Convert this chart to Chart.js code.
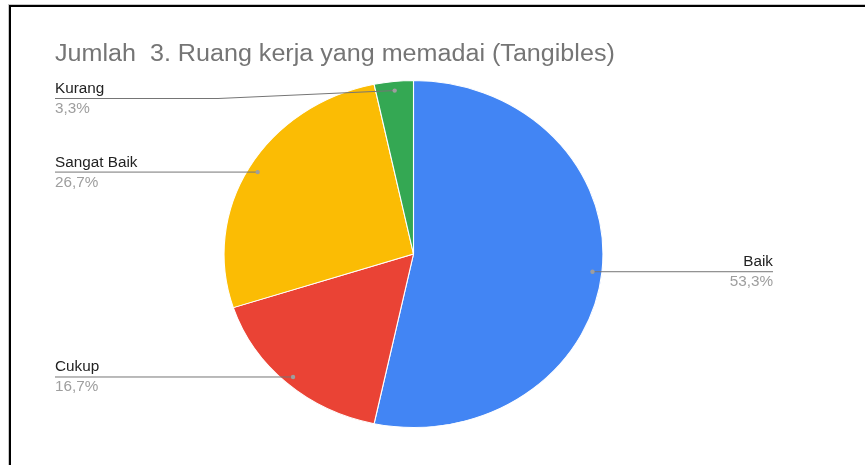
<!DOCTYPE html>
<html>
<head>
<meta charset="utf-8">
<script src="https://cdn.jsdelivr.net/npm/chart.js@4"></script>
<style>
  html, body { margin: 0; padding: 0; background: #fff; }
  #wrap { position: relative; width: 865px; height: 465px; overflow: hidden; }
  #frame {
    position: absolute; left: 9px; top: 5px; width: 900px; height: 500px;
    border-left: 2px solid #000; border-top: 2px solid #000;
    box-shadow: -1px -1px 0 #c8c8c8;
  }
  canvas { position: absolute; left: 0; top: 0; }
</style>
</head>
<body>
<div id="wrap">
  <div id="frame"></div>
  <canvas id="mychart" width="865" height="465"></canvas>
</div>
<script>
const chartTitle = 'Jumlah  3. Ruang kerja yang memadai (Tangibles)'
const categories = ['Baik', 'Cukup', 'Sangat Baik', 'Kurang']
const counts = [16, 5, 8, 1]
const colors = ['#4285F4', '#EA4335', '#FBBC04', '#34A853']

// the reference picture is a bit wider than tall (pie and text alike)
const stretchX = 1.092
const labelLeftX = 55
const labelRightX = 773
const labelMinY = 98
const fontFamily = '"Liberation Sans", Arial, sans-serif'

const total = counts.reduce((a, b) => a + b, 0)

function fmtPct(v) {
    return (v / total * 100).toFixed(1).replace('.', ',') + '%'
}

function wideText(ctx, text, x, y) {
    ctx.save()
    ctx.translate(x, y)
    ctx.scale(stretchX, 1)
    ctx.fillText(text, 0, 0)
    ctx.restore()
}

// stretch the arcs horizontally around the pie center
const stretchPlugin = {
    id: 'stretch',
    beforeDatasetsDraw(chart) {
        const arc = chart.getDatasetMeta(0).data[0]
        const ctx = chart.ctx
        ctx.save()
        ctx.translate(arc.x, arc.y)
        ctx.scale(stretchX, 1)
        ctx.translate(-arc.x, -arc.y)
    },
    afterDatasetsDraw(chart) {
        chart.ctx.restore()
    }
}

// title + leader-line labels, google sheets style
const labelPlugin = {
    id: 'leaderLabels',
    afterDraw(chart) {
        const ctx = chart.ctx
        ctx.save()
        ctx.font = '23px ' + fontFamily
        ctx.fillStyle = '#757575'
        ctx.textAlign = 'left'
        ctx.textBaseline = 'alphabetic'
        wideText(ctx, chartTitle, 55, 61)

        chart.getDatasetMeta(0).data.forEach((arc, i) => {
            const p = arc.getProps(['x', 'y', 'startAngle', 'endAngle', 'outerRadius'], true)
            const mid = (p.startAngle + p.endAngle) / 2
            const r = p.outerRadius * 0.95
            const dx = p.x + Math.cos(mid) * r * stretchX
            const dy = p.y + Math.sin(mid) * r
            const right = Math.cos(mid) > 0
            const ly = Math.max(dy, labelMinY)
            const tx = right ? labelRightX : labelLeftX

            ctx.strokeStyle = '#757575'
            ctx.lineWidth = 1
            ctx.beginPath()
            ctx.moveTo(tx, ly + 0.5)
            if (ly !== dy) {
                const bend = labelLeftX + 163
                ctx.lineTo(bend, ly + 0.5)
            }
            ctx.lineTo(dx, dy + 0.5)
            ctx.stroke()

            ctx.fillStyle = '#9e9e9e'
            ctx.beginPath()
            ctx.arc(dx, dy + 0.5, 2.2, 0, Math.PI * 2)
            ctx.fill()

            ctx.textAlign = right ? 'right' : 'left'
            ctx.font = '14px ' + fontFamily
            ctx.fillStyle = '#222222'
            wideText(ctx, categories[i], tx, ly - 5)
            ctx.fillStyle = '#9e9e9e'
            wideText(ctx, fmtPct(counts[i]), tx, ly + 15)
        })
        ctx.restore()
    }
}

const ctx = document.getElementById('mychart').getContext('2d')
const mychart = new Chart(ctx, {
    type: 'pie',
    data: {
        labels: categories,
        datasets: [{
            data: counts,
            backgroundColor: colors,
            borderColor: '#ffffff',
            borderWidth: 1
        }]
    },
    options: {
        responsive: false,
        animation: false,
        layout: {
            padding: { top: 80, bottom: 37, left: 200, right: 238 }
        },
        plugins: {
            legend: { display: false },
            title: { display: false },
            tooltip: { enabled: false }
        }
    },
    plugins: [stretchPlugin, labelPlugin]
})
</script>
</body>
</html>
